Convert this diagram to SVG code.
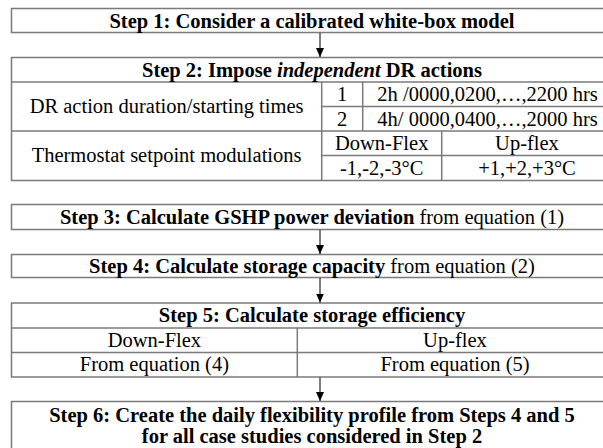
<svg xmlns="http://www.w3.org/2000/svg" width="603" height="448" viewBox="0 0 603 448">
<style>
.box{fill:#fff;stroke:#7a7a7a;stroke-width:1.5}
.ln{stroke:#7a7a7a;stroke-width:1.5;fill:none}
.t{font-family:"Liberation Serif","Times New Roman",serif;font-size:20.5px;fill:#000;text-anchor:middle}
.b{font-weight:bold}
.arrow{stroke:#000;stroke-width:1;fill:none;marker-end:url(#ah)}
</style>
<defs>
<marker id="ah" markerWidth="10" markerHeight="10" refX="9" refY="5" orient="auto" markerUnits="userSpaceOnUse">
<path d="M0,1 L9,5 L0,9 Z" fill="#000"/>
</marker>
</defs>
<rect width="603" height="448" fill="#fff"/>
<g id="step1">
<rect class="box" x="11.5" y="8.5" width="602" height="24"/>
<text class="t b" x="312" y="28">Step 1: Consider a calibrated white-box model</text>
</g>
<g id="step2">
<rect class="box" x="11.5" y="57.5" width="602" height="123"/>
<line class="ln" x1="11.5" y1="82" x2="613.5" y2="82"/>
<line class="ln" x1="11.5" y1="131" x2="613.5" y2="131"/>
<line class="ln" x1="321.7" y1="82" x2="321.7" y2="180.5"/>
<line class="ln" x1="362.7" y1="82" x2="362.7" y2="131"/>
<line class="ln" x1="321.7" y1="106.5" x2="613.5" y2="106.5"/>
<line class="ln" x1="321.7" y1="155.5" x2="613.5" y2="155.5"/>
<line class="ln" x1="441.7" y1="131" x2="441.7" y2="180.5"/>
<text class="t b" x="312" y="77">Step 2: Impose <tspan font-style="italic">independent</tspan> DR actions</text>
<text class="t" x="166.6" y="113">DR action duration/starting times</text>
<text class="t" x="342.2" y="101">1</text>
<text class="t" x="342.2" y="125.5">2</text>
<text class="t" x="487.5" y="101">2h /0000,0200,…,2200 hrs</text>
<text class="t" x="487.5" y="125.5">4h/ 0000,0400,…,2000 hrs</text>
<text class="t" x="166.6" y="162">Thermostat setpoint modulations</text>
<text class="t" x="381.7" y="150">Down-Flex</text>
<text class="t" x="381.7" y="174.5">-1,-2,-3°C</text>
<text class="t" x="527" y="150">Up-flex</text>
<text class="t" x="527" y="174.5">+1,+2,+3°C</text>
</g>
<g id="step3">
<rect class="box" x="11.5" y="204.5" width="602" height="25"/>
<text class="t" x="312" y="224"><tspan font-weight="bold">Step 3: Calculate GSHP power deviation</tspan> from equation (1)</text>
</g>
<g id="step4">
<rect class="box" x="11.5" y="254.5" width="602" height="23"/>
<text class="t" x="312" y="272.5"><tspan font-weight="bold">Step 4: Calculate storage capacity</tspan> from equation (2)</text>
</g>
<g id="step5">
<rect class="box" x="11.5" y="303" width="602" height="74"/>
<line class="ln" x1="11.5" y1="328" x2="613.5" y2="328"/>
<line class="ln" x1="11.5" y1="352.5" x2="613.5" y2="352.5"/>
<line class="ln" x1="297.3" y1="328" x2="297.3" y2="377"/>
<text class="t b" x="312" y="322">Step 5: Calculate storage efficiency</text>
<text class="t" x="154.4" y="346.5">Down-Flex</text>
<text class="t" x="455" y="346.5">Up-flex</text>
<text class="t" x="154.4" y="371">From equation (4)</text>
<text class="t" x="455" y="371">From equation (5)</text>
</g>
<g id="step6">
<rect class="box" x="11.5" y="401.5" width="602" height="60"/>
<text class="t b" x="312" y="422">Step 6: Create the daily flexibility profile from Steps 4 and 5</text>
<text class="t b" x="312" y="443">for all case studies considered in Step 2</text>
</g>
<g id="connectors">
<line class="arrow" x1="320" y1="33" x2="320" y2="57"/>
<line class="arrow" x1="320" y1="230" x2="320" y2="254"/>
<line class="arrow" x1="320" y1="278" x2="320" y2="302.5"/>
<line class="arrow" x1="320" y1="377.5" x2="320" y2="401"/>
</g>
</svg>
